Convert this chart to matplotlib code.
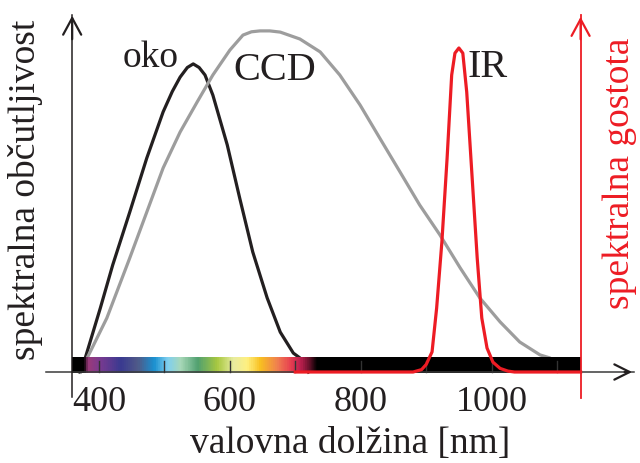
import numpy as np
import matplotlib
matplotlib.use('Agg')
import matplotlib.pyplot as plt
from matplotlib.colors import LinearSegmentedColormap

# values (wavelength in nm, relative height)
oko_nm = [370, 379, 402, 421, 447, 473, 498, 512, 524, 535, 544, 553, 562, 574, 596, 615, 635, 657, 677, 697, 707, 720]
oko_val = [0.0, 0.047, 0.213, 0.357, 0.533, 0.713, 0.867, 0.935, 0.983, 1.015, 1.027, 1.015, 0.99, 0.923, 0.757, 0.58, 0.4, 0.247, 0.133, 0.063, 0.047, 0.0]

ccd_nm = [372, 382, 412, 447, 473, 498, 524, 550, 574, 600, 620, 633, 646, 661, 677, 707, 738, 768, 799, 829, 860, 890, 921, 952, 982, 1013, 1043, 1074, 1089, 1100]
ccd_val = [0.0, 0.047, 0.18, 0.38, 0.533, 0.68, 0.8, 0.9, 0.99, 1.073, 1.123, 1.134, 1.137, 1.137, 1.133, 1.11, 1.067, 0.99, 0.89, 0.78, 0.667, 0.557, 0.457, 0.347, 0.247, 0.167, 0.1, 0.057, 0.047, 0.03]

ir_nm = [700, 880, 893, 900, 909, 916, 924, 932, 939, 944, 950, 956, 962, 970, 978, 985, 993, 1002, 1013, 1025, 1035, 1136]
ir_val = [0.0, 0.0, 0.008, 0.025, 0.067, 0.213, 0.433, 0.713, 0.99, 1.063, 1.08, 1.063, 0.933, 0.657, 0.38, 0.18, 0.08, 0.033, 0.012, 0.003, 0.0, 0.0]

# spectrum strip colours
spec_nm = [359, 376, 382, 400, 432, 458, 483, 504, 524, 550, 580, 605, 626, 646, 672, 692, 707, 722, 733, 1136]
spec_col = ['#000000', '#000000', '#9a3a7a', '#7a3a90', '#3a3a90', '#505a88', '#1a90d0', '#80d0f0',
            '#a8d8b8', '#50a070', '#a8c840', '#e8eca0', '#fff080', '#f8c020', '#f08050', '#e84050',
            '#c02050', '#601028', '#000000', '#000000']

ticks = [400, 500, 600, 700, 800, 900, 1000, 1100]
tick_labels = ['400', '600', '800', '1000']

x_left, x_red, x_end, x_start = 359, 1136, 1219, 319

plt.rcParams['font.family'] = ['Liberation Serif', 'DejaVu Serif']

fig = plt.figure(figsize=(6.4, 4.63), dpi=100)
ax = fig.add_axes([0, 0, 1, 1])
ax.set_xlim(248.7, 1226.8)
ax.set_ylim(-0.3033, 1.24)
ax.axis('off')

ax.plot(oko_nm, oko_val, color='#231f20', lw=2.3, zorder=2, solid_joinstyle='round')
ax.plot(ccd_nm, ccd_val, color='#9d9d9d', lw=2.3, zorder=2, solid_joinstyle='round')

# spectrum bar
pos = [(n - spec_nm[0]) / (spec_nm[-1] - spec_nm[0]) for n in spec_nm]
cmap = LinearSegmentedColormap.from_list('spec', list(zip(pos, spec_col)))
grad = np.linspace(0, 1, 800).reshape(1, -1)
ax.imshow(grad, cmap=cmap, extent=[spec_nm[0], spec_nm[-1], -0.003, 0.047], aspect='auto', zorder=3)

# axes
ax.plot([x_start, x_end - 2], [0, 0], color='#3a3a3a', lw=1.1, zorder=4)
ax.annotate('', xy=(x_end, 0), xytext=(x_end - 20, 0),
            arrowprops=dict(arrowstyle='->,head_length=1.1,head_width=0.55', lw=1.6, color='#231f20'), zorder=4)
ax.plot([x_left, x_left], [-0.083, 1.19], color='#231f20', lw=1.1, zorder=4)
ax.annotate('', xy=(x_left, 1.197), xytext=(x_left, 1.1),
            arrowprops=dict(arrowstyle='->,head_length=1.2,head_width=0.65', lw=1.6, color='#231f20'), zorder=4)
ax.plot([x_red, x_red], [-0.087, 1.19], color='#ed1c24', lw=1.3, zorder=4)
ax.annotate('', xy=(x_red, 1.193), xytext=(x_red, 1.1),
            arrowprops=dict(arrowstyle='->,head_length=1.2,head_width=0.65', lw=1.6, color='#ed1c24'), zorder=4)

for t in ticks:
    ax.plot([t, t], [0, 0.037], color='#333333', lw=1.0, zorder=4)
for lab in tick_labels:
    ax.text(int(lab), -0.045, lab, ha='center', va='top', fontsize=26, color='#231f20')

ax.plot(ir_nm, ir_val, color='#ed1c24', lw=2.3, zorder=5, solid_joinstyle='round')

ax.text(479.5, 1.017, 'oko', ha='center', va='baseline', fontsize=27, color='#231f20')
ax.text(669, 0.973, 'CCD', ha='center', va='baseline', fontsize=29, color='#231f20')
ax.text(994, 0.983, 'IR', ha='center', va='baseline', fontsize=29, color='#231f20')

ax.text(783.5, -0.27, 'valovna dolžina [nm]', ha='center', va='baseline', fontsize=27, color='#231f20')
ax.text(287, 0.607, 'spektralna občutljivost', rotation=90, ha='center', va='center', fontsize=27, color='#231f20')
ax.text(1196, 0.663, 'spektralna gostota', rotation=90, ha='center', va='center', fontsize=27, color='#ed1c24')

fig.savefig('out.png', dpi=100)
